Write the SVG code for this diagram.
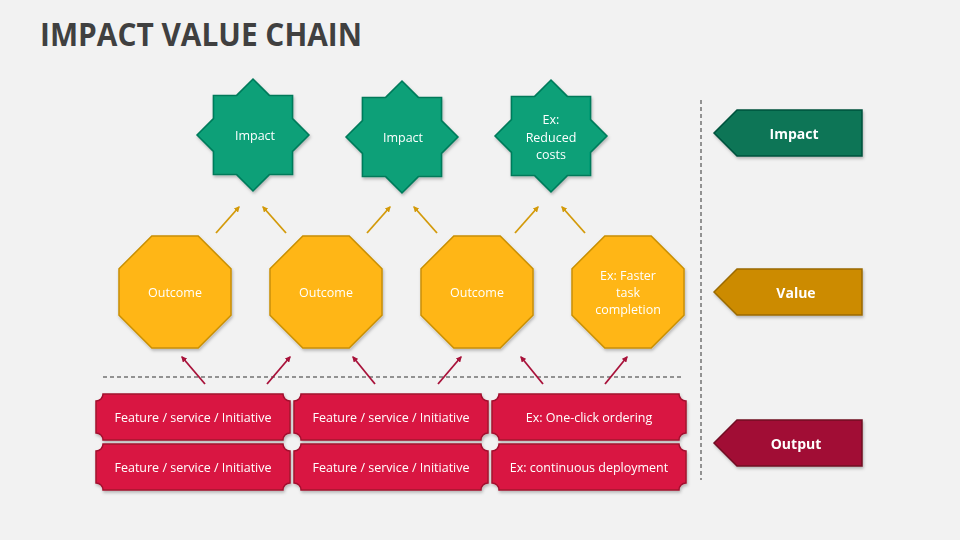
<svg xmlns="http://www.w3.org/2000/svg" width="960" height="540" viewBox="0 0 960 540">
<style>
.t{font-family:"Open Sans","Liberation Sans",Arial,sans-serif;fill:#fff;text-anchor:middle;dominant-baseline:central;font-size:12.5px;font-weight:500}
.lb{font-family:"Open Sans","Liberation Sans",Arial,sans-serif;fill:#fff;text-anchor:middle;dominant-baseline:central;font-size:14px;font-weight:bold}
.star{fill:#08A078;stroke:#067A5A;stroke-width:1.5}
.oct{fill:#FFB612;stroke:#C98F06;stroke-width:1.5}
.box{fill:#D91842;stroke:#A3102F;stroke-width:1.5}
.ga{stroke:#D39A0A;stroke-width:1.8;fill:none}
.ra{stroke:#A8123A;stroke-width:1.8;fill:none}
.dash{stroke:#333;stroke-width:1;stroke-dasharray:4 3;fill:none}
</style>
<defs>
<filter id="sh" x="-20%" y="-20%" width="140%" height="140%">
<feDropShadow dx="1" dy="2" stdDeviation="1.5" flood-color="#000" flood-opacity="0.25"/>
</filter>
<marker id="mg" viewBox="0 0 10 10" refX="8" refY="5" markerWidth="6" markerHeight="6" orient="auto" markerUnits="userSpaceOnUse">
<path d="M0,0 L10,5 L0,10 Z" fill="#D39A0A"/>
</marker>
<marker id="mr" viewBox="0 0 10 10" refX="8" refY="5" markerWidth="6" markerHeight="6" orient="auto" markerUnits="userSpaceOnUse">
<path d="M0,0 L10,5 L0,10 Z" fill="#A8123A"/>
</marker>
<polygon id="starShape" points="0,-56 16.4,-39.6 39.6,-39.6 39.6,-16.4 56,0 39.6,16.4 39.6,39.6 16.4,39.6 0,56 -16.4,39.6 -39.6,39.6 -39.6,16.4 -56,0 -39.6,-16.4 -39.6,-39.6 -16.4,-39.6"/>
<polygon id="octShape" points="-23.2,-56 23.2,-56 56,-23.2 56,23.2 23.2,56 -23.2,56 -56,23.2 -56,-23.2"/>
</defs>
<rect width="960" height="540" fill="#F2F2F2"/>
<text x="40" y="46" font-family="'Open Sans','Liberation Sans',Arial,sans-serif" font-weight="bold" font-size="32" fill="#404040" textLength="322" lengthAdjust="spacingAndGlyphs">IMPACT VALUE CHAIN</text>

<g id="dividers">
<line class="dash" x1="103" y1="377" x2="681" y2="377"/>
<line class="dash" x1="701" y1="100" x2="701" y2="480"/>
</g>

<g id="star1" filter="url(#sh)"><use href="#starShape" class="star" x="253" y="135"/><text class="t" x="255" y="135">Impact</text></g>
<g id="star2" filter="url(#sh)"><use href="#starShape" class="star" x="402" y="137"/><text class="t" x="403" y="137">Impact</text></g>
<g id="star3" filter="url(#sh)"><use href="#starShape" class="star" x="551" y="136"/><text class="t" x="551" y="119">Ex:</text><text class="t" x="551" y="137">Reduced</text><text class="t" x="551" y="154">costs</text></g>

<g id="oct1" filter="url(#sh)"><use href="#octShape" class="oct" x="175" y="292"/><text class="t" x="175" y="292">Outcome</text></g>
<g id="oct2" filter="url(#sh)"><use href="#octShape" class="oct" x="326" y="292"/><text class="t" x="326" y="292">Outcome</text></g>
<g id="oct3" filter="url(#sh)"><use href="#octShape" class="oct" x="477" y="292"/><text class="t" x="477" y="292">Outcome</text></g>
<g id="oct4" filter="url(#sh)"><use href="#octShape" class="oct" x="628" y="292"/><text class="t" x="628" y="275">Ex: Faster</text><text class="t" x="628" y="292">task</text><text class="t" x="628" y="309">completion</text></g>

<g id="box1" filter="url(#sh)"><path class="box" d="M103,394 H283 A7,7 0 0 0 290,401 V433 A7,7 0 0 0 283,440 H103 A7,7 0 0 0 96,433 V401 A7,7 0 0 0 103,394 Z"/><text class="t" x="193" y="417">Feature / service / Initiative</text></g>
<g id="box2" filter="url(#sh)"><path class="box" d="M301,394 H481 A7,7 0 0 0 488,401 V433 A7,7 0 0 0 481,440 H301 A7,7 0 0 0 294,433 V401 A7,7 0 0 0 301,394 Z"/><text class="t" x="391" y="417">Feature / service / Initiative</text></g>
<g id="box3" filter="url(#sh)"><path class="box" d="M499,394 H679 A7,7 0 0 0 686,401 V433 A7,7 0 0 0 679,440 H499 A7,7 0 0 0 492,433 V401 A7,7 0 0 0 499,394 Z"/><text class="t" x="589" y="417">Ex: One-click ordering</text></g>
<g id="box4" filter="url(#sh)"><path class="box" d="M103,444 H283 A7,7 0 0 0 290,451 V483 A7,7 0 0 0 283,490 H103 A7,7 0 0 0 96,483 V451 A7,7 0 0 0 103,444 Z"/><text class="t" x="193" y="467">Feature / service / Initiative</text></g>
<g id="box5" filter="url(#sh)"><path class="box" d="M301,444 H481 A7,7 0 0 0 488,451 V483 A7,7 0 0 0 481,490 H301 A7,7 0 0 0 294,483 V451 A7,7 0 0 0 301,444 Z"/><text class="t" x="391" y="467">Feature / service / Initiative</text></g>
<g id="box6" filter="url(#sh)"><path class="box" d="M499,444 H679 A7,7 0 0 0 686,451 V483 A7,7 0 0 0 679,490 H499 A7,7 0 0 0 492,483 V451 A7,7 0 0 0 499,444 Z"/><text class="t" x="589" y="467">Ex: continuous deployment</text></g>

<g id="label-impact" filter="url(#sh)"><polygon points="714,133 737,110 862,110 862,156 737,156" fill="#077456" stroke="#05513C" stroke-width="1.5"/><text class="lb" x="794" y="133">Impact</text></g>
<g id="label-value" filter="url(#sh)"><polygon points="714,292 737,269 862,269 862,315 737,315" fill="#CC8B00" stroke="#9A6A00" stroke-width="1.5"/><text class="lb" x="796" y="292">Value</text></g>
<g id="label-output" filter="url(#sh)"><polygon points="714,443 737,420 862,420 862,466 737,466" fill="#A10F34" stroke="#700A24" stroke-width="1.5"/><text class="lb" x="796" y="443">Output</text></g>

<g id="connectors">
<line class="ga" x1="216" y1="233" x2="239" y2="207" marker-end="url(#mg)"/>
<line class="ga" x1="286" y1="233" x2="263" y2="207" marker-end="url(#mg)"/>
<line class="ga" x1="367" y1="233" x2="390" y2="207" marker-end="url(#mg)"/>
<line class="ga" x1="437" y1="233" x2="414" y2="207" marker-end="url(#mg)"/>
<line class="ga" x1="515" y1="233" x2="538" y2="207" marker-end="url(#mg)"/>
<line class="ga" x1="585" y1="233" x2="562" y2="207" marker-end="url(#mg)"/>
<line class="ra" x1="205" y1="384" x2="182" y2="357" marker-end="url(#mr)"/>
<line class="ra" x1="267" y1="384" x2="290" y2="357" marker-end="url(#mr)"/>
<line class="ra" x1="375" y1="384" x2="353" y2="357" marker-end="url(#mr)"/>
<line class="ra" x1="438" y1="384" x2="461" y2="357" marker-end="url(#mr)"/>
<line class="ra" x1="543" y1="384" x2="521" y2="357" marker-end="url(#mr)"/>
<line class="ra" x1="605" y1="384" x2="627" y2="357" marker-end="url(#mr)"/>
</g>
</svg>
